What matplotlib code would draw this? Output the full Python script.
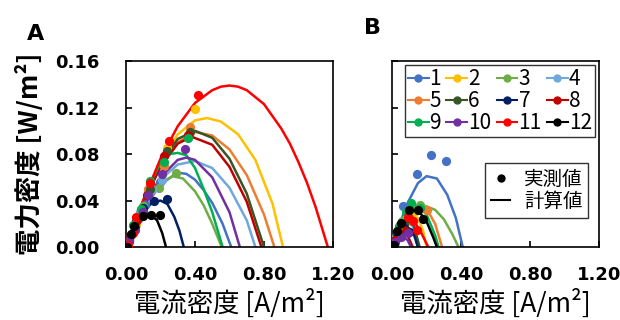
import matplotlib
matplotlib.use("Agg")
from matplotlib import pyplot as plt
from matplotlib.lines import Line2D

series = ['1', '2', '3', '4', '5', '6', '7', '8', '9', '10', '11', '12']
colors = ['#4472C4', '#FFC000', '#70AD47', '#6FA8DC', '#ED7D31', '#375623',
          '#002060', '#C00000', '#00B050', '#7030A0', '#FF0000', '#000000']

# panel A: measured points (current density, power density)
a_meas_i = [
    [0.02, 0.06, 0.11, 0.20],
    [0.02, 0.06, 0.13, 0.24, 0.40],
    [0.05, 0.10, 0.19, 0.29],
    [0.03, 0.08, 0.15, 0.21],
    [0.03, 0.07, 0.13, 0.22, 0.37],
    [0.02, 0.07, 0.14, 0.24, 0.37],
    [0.02, 0.05, 0.10, 0.165, 0.235],
    [0.02, 0.06, 0.12, 0.22, 0.36],
    [0.04, 0.085, 0.14, 0.22, 0.36],
    [0.02, 0.05, 0.10, 0.13, 0.21, 0.34],
    [0.01, 0.04, 0.06, 0.14, 0.25, 0.42],
    [0.008, 0.029, 0.048, 0.10, 0.145, 0.20],
]
a_meas_p = [
    [0.005, 0.020, 0.036, 0.056],
    [0.006, 0.020, 0.047, 0.085, 0.119],
    [0.020, 0.035, 0.051, 0.064],
    [0.010, 0.030, 0.050, 0.058],
    [0.010, 0.025, 0.050, 0.070, 0.1035],
    [0.006, 0.024, 0.050, 0.083, 0.099],
    [0.005, 0.016, 0.034, 0.040, 0.041],
    [0.007, 0.022, 0.045, 0.078, 0.096],
    [0.019, 0.033, 0.057, 0.073, 0.094],
    [0.005, 0.015, 0.030, 0.045, 0.063, 0.084],
    [0.002, 0.012, 0.026, 0.055, 0.091, 0.131],
    [0.0, 0.011, 0.018, 0.027, 0.028, 0.028],
]
# panel A: calculated curves
a_calc_i = [
    [0, 0.1, 0.2, 0.3, 0.35, 0.4, 0.45, 0.5, 0.56, 0.61],
    [0, 0.1, 0.2, 0.3, 0.4, 0.47, 0.55, 0.65, 0.75, 0.85, 0.91],
    [0, 0.1, 0.2, 0.27, 0.33, 0.4, 0.45, 0.5, 0.555],
    [0, 0.1, 0.2, 0.3, 0.4, 0.5, 0.6, 0.7, 0.75],
    [0, 0.1, 0.2, 0.3, 0.4, 0.5, 0.6, 0.7, 0.8, 0.86],
    [0, 0.1, 0.2, 0.3, 0.4, 0.5, 0.6, 0.7, 0.8],
    [0, 0.05, 0.1, 0.15, 0.2, 0.24, 0.28, 0.31, 0.335],
    [0, 0.1, 0.2, 0.3, 0.38, 0.5, 0.6, 0.7, 0.785],
    [0, 0.05, 0.1, 0.15, 0.2, 0.25, 0.3, 0.35, 0.4, 0.45, 0.5, 0.56],
    [0, 0.1, 0.2, 0.3, 0.35, 0.4, 0.5, 0.6, 0.66],
    [0, 0.1, 0.2, 0.3, 0.4, 0.5, 0.55, 0.6, 0.65, 0.7, 0.8, 0.9, 0.95, 1.0,
     1.05, 1.1, 1.17],
    [0, 0.04, 0.08, 0.12, 0.15, 0.18, 0.21, 0.232],
]
a_calc_p = [
    [0, 0.032, 0.054, 0.064, 0.063, 0.058, 0.049, 0.038, 0.020, 0],
    [0, 0.040, 0.074, 0.097, 0.109, 0.111, 0.108, 0.097, 0.075, 0.037, 0],
    [0, 0.032, 0.055, 0.061, 0.059, 0.048, 0.036, 0.020, 0],
    [0, 0.033, 0.058, 0.071, 0.074, 0.068, 0.051, 0.023, 0],
    [0, 0.039, 0.070, 0.090, 0.099, 0.096, 0.084, 0.062, 0.028, 0],
    [0, 0.040, 0.072, 0.093, 0.100, 0.094, 0.076, 0.046, 0],
    [0, 0.016, 0.030, 0.038, 0.040, 0.037, 0.026, 0.014, 0],
    [0, 0.038, 0.069, 0.089, 0.095, 0.088, 0.069, 0.039, 0],
    [0, 0.022, 0.040, 0.058, 0.072, 0.080, 0.081, 0.079, 0.068, 0.050, 0.030, 0],
    [0, 0.034, 0.060, 0.075, 0.077, 0.075, 0.060, 0.030, 0],
    [0, 0.040, 0.076, 0.104, 0.124, 0.135, 0.138, 0.139, 0.138, 0.135, 0.123,
     0.102, 0.089, 0.073, 0.055, 0.034, 0],
    [0, 0.013, 0.022, 0.027, 0.027, 0.023, 0.012, 0],
]

# panel B: measured points
b_meas_i = [
    [0.01, 0.03, 0.064, 0.145, 0.228, 0.311],
    [0.03, 0.08, 0.13],
    [0.02, 0.06, 0.11, 0.16],
    [0.02, 0.05, 0.08],
    [0.02, 0.05, 0.10, 0.205],
    [0.03, 0.07, 0.10],
    [0.03, 0.07, 0.097],
    [0.02, 0.05, 0.08],
    [0.04, 0.08, 0.11, 0.16],
    [0.02, 0.053, 0.09],
    [0.05, 0.093, 0.12, 0.147],
    [0.01, 0.03, 0.054, 0.10, 0.15, 0.18],
]
b_meas_p = [
    [0.002, 0.012, 0.035, 0.0625, 0.079, 0.074],
    [0.010, 0.024, 0.030],
    [0.008, 0.022, 0.034, 0.036],
    [0.008, 0.018, 0.022],
    [0.005, 0.012, 0.025, 0.032],
    [0.010, 0.020, 0.025],
    [0.008, 0.016, 0.013],
    [0.006, 0.012, 0.014],
    [0.018, 0.030, 0.0375, 0.034],
    [0.004, 0.009, 0.012],
    [0.020, 0.0255, 0.022, 0.015],
    [0.002, 0.014, 0.021, 0.032, 0.032, 0.024],
]
# panel B: calculated curves
b_calc_i = [
    [0, 0.03, 0.08, 0.15, 0.20, 0.26, 0.32, 0.37, 0.41],
    [0, 0.05, 0.10, 0.15, 0.18, 0.20],
    [0, 0.05, 0.10, 0.15, 0.20, 0.25, 0.30, 0.35, 0.385],
    [0, 0.04, 0.08, 0.12, 0.15],
    [0, 0.05, 0.10, 0.15, 0.20, 0.25, 0.29],
    [0, 0.04, 0.08, 0.12, 0.16],
    [0, 0.04, 0.08, 0.12, 0.15],
    [0, 0.03, 0.06, 0.09, 0.12],
    [0, 0.05, 0.10, 0.15, 0.20, 0.25, 0.27],
    [0, 0.03, 0.06, 0.09, 0.11],
    [0, 0.05, 0.09, 0.13, 0.17, 0.20, 0.21],
    [0, 0.05, 0.10, 0.15, 0.20, 0.24, 0.26],
]
b_calc_p = [
    [0, 0.012, 0.035, 0.055, 0.061, 0.059, 0.045, 0.025, 0],
    [0, 0.018, 0.026, 0.025, 0.014, 0],
    [0, 0.020, 0.031, 0.035, 0.035, 0.032, 0.024, 0.011, 0],
    [0, 0.015, 0.022, 0.018, 0],
    [0, 0.018, 0.029, 0.034, 0.033, 0.020, 0],
    [0, 0.015, 0.024, 0.022, 0],
    [0, 0.012, 0.018, 0.014, 0],
    [0, 0.010, 0.014, 0.010, 0],
    [0, 0.022, 0.035, 0.036, 0.028, 0.010, 0],
    [0, 0.006, 0.009, 0.006, 0],
    [0, 0.019, 0.026, 0.022, 0.012, 0.003, 0],
    [0, 0.020, 0.031, 0.032, 0.022, 0.008, 0],
]

x_ticks = [0.0, 0.4, 0.8, 1.2]
y_ticks = [0.0, 0.04, 0.08, 0.12, 0.16]

jp = ['Noto Sans CJK JP', 'DejaVu Sans']
tick_font = {'family': 'DejaVu Sans', 'weight': 'bold', 'size': 13}

fig = plt.figure(figsize=(6.2, 3.2), dpi=100)
ax_a = fig.add_axes([0.2032, 0.228, 0.3339, 0.581])
ax_b = fig.add_axes([0.6323, 0.228, 0.3339, 0.581])


def draw_panel(ax, calc_i, calc_p, meas_i, meas_p, show_y):
    for k in range(len(series)):
        ax.plot(calc_i[k], calc_p[k], color=colors[k], lw=1.8, zorder=2,
                solid_joinstyle='round')
    for k in range(len(series)):
        ax.scatter(meas_i[k], meas_p[k], color=colors[k], s=44, zorder=3,
                   linewidths=0)
    ax.set_xlim(0, 1.2)
    ax.set_ylim(0, 0.16)
    ax.set_xticks(x_ticks)
    ax.set_xticklabels([f'{v:.2f}' for v in x_ticks], fontdict=tick_font)
    ax.set_yticks(y_ticks)
    if show_y:
        ax.set_yticklabels([f'{v:.2f}' for v in y_ticks], fontdict=tick_font)
    else:
        ax.set_yticklabels([])
    ax.tick_params(direction='in', length=4, width=1.2)
    ax.tick_params(axis='x', pad=14)
    ax.tick_params(axis='y', pad=19)
    for sp in ax.spines.values():
        sp.set_linewidth(1.2)
    ax.set_xlabel('電流密度 [A/m²]', family=jp, fontsize=19, labelpad=3)


draw_panel(ax_a, a_calc_i, a_calc_p, a_meas_i, a_meas_p, True)
draw_panel(ax_b, b_calc_i, b_calc_p, b_meas_i, b_meas_p, False)
ax_a.set_ylabel('電力密度 [W/m²]', family=jp, fontsize=19, fontweight='bold',
                labelpad=8)

# series legend, filled row by row like the reference
order = [0, 4, 8, 1, 5, 9, 2, 6, 10, 3, 7, 11]
handles = [Line2D([], [], color=colors[k], marker='o', markersize=5, lw=1.5)
           for k in order]
leg1 = ax_b.legend(handles, [series[k] for k in order], ncol=4, loc='upper right',
                   bbox_to_anchor=(0.981, 0.978), prop={'family': jp, 'size': 15},
                   handlelength=1.0, handletextpad=0.05, columnspacing=0.25,
                   labelspacing=0.0, borderpad=0.15, borderaxespad=0,
                   frameon=True, fancybox=False, edgecolor='black')
leg1.get_frame().set_linewidth(1.0)
ax_b.add_artist(leg1)

kind_handles = [Line2D([], [], color='black', marker='o', linestyle='None', markersize=5),
                Line2D([], [], color='black', lw=1.5)]
leg2 = ax_b.legend(kind_handles, ['実測値', '計算値'], loc='upper right',
                   bbox_to_anchor=(0.948, 0.452), prop={'family': jp, 'size': 14},
                   handlelength=1.0, handletextpad=0.7, labelspacing=0.05,
                   borderpad=0.3, borderaxespad=0, frameon=True, fancybox=False,
                   edgecolor='black')
leg2.get_frame().set_linewidth(1.0)

fig.text(0.057, 0.895, 'A', fontsize=16, fontweight='bold', ha='center', va='center')
fig.text(0.600, 0.912, 'B', fontsize=16, fontweight='bold', ha='center', va='center')

fig.savefig('out.png', dpi=100)
